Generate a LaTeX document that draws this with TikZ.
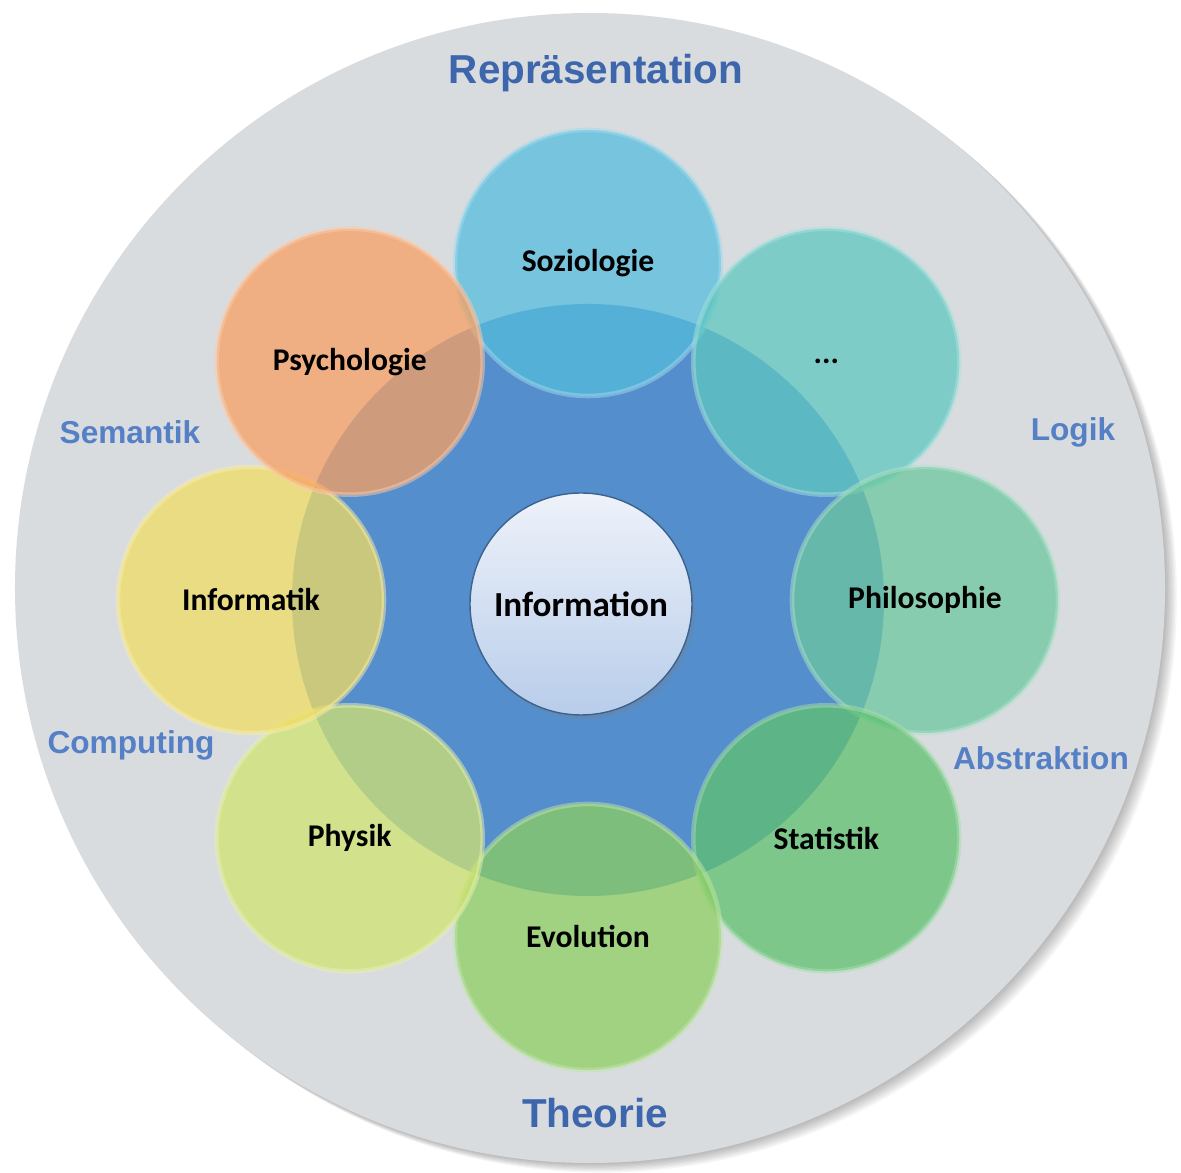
\documentclass[tikz,border=0pt]{standalone}
\usepackage{fontspec}
\setmainfont{Carlito}
\newfontfamily\headfont{Liberation Sans}
\usetikzlibrary{shadows}

\definecolor{discgray}{RGB}{217,220,223}
\definecolor{innerblue}{RGB}{85,142,204}
\definecolor{headblue}{RGB}{62,102,172}
\definecolor{labelblue}{RGB}{86,128,198}
\definecolor{sozcol}{RGB}{85,188,221}
\definecolor{dotscol}{RGB}{95,199,192}
\definecolor{philcol}{RGB}{108,199,159}
\definecolor{statcol}{RGB}{95,193,112}
\definecolor{evolcol}{RGB}{141,207,99}
\definecolor{physcol}{RGB}{208,227,112}
\definecolor{infcol}{RGB}{241,220,99}
\definecolor{psycol}{RGB}{248,160,99}
\definecolor{infotop}{RGB}{238,242,250}
\definecolor{infobot}{RGB}{184,205,234}

\tikzset{
  field/.style={circle,minimum size=2.66cm,inner sep=0pt,
    fill opacity=0.75,draw opacity=0.5,text opacity=1,line width=1.3pt,
    font=\bfseries\fontsize{9}{11}\selectfont},
  topic/.style={text=labelblue,font=\headfont\bfseries\fontsize{9}{11}\selectfont},
  bigtopic/.style={text=headblue,font=\headfont\bfseries\fontsize{11.5}{14}\selectfont}
}

\begin{document}
\begin{tikzpicture}

\fill[white] (-5.88,-5.73) rectangle (5.93,6.00);
\useasboundingbox (-5.88,-5.73) rectangle (5.93,6.00);

% soft shadow under the grey disc
\foreach \s in {1,...,8}
  \fill[black,opacity=0.035] (0.02+0.015*\s,0.12-0.012*\s) circle (5.75);
\fill[discgray] (0.02,0.12) circle (5.75);
\fill[innerblue] (0,0) circle (2.96);

% the eight fields round the centre
\node[field,fill=sozcol,draw=sozcol!55!white] (soz) at (90:3.37) {Soziologie};
\node[field,fill=dotscol,draw=dotscol!55!white] (dots) at (45:3.37) {...};
\node[field,fill=philcol,draw=philcol!55!white] (phil) at (0:3.37) {Philosophie};
\node[field,fill=statcol,draw=statcol!55!white] (stat) at (-45:3.37) {Statistik};
\node[field,fill=evolcol,draw=evolcol!55!white] (evol) at (-90:3.37) {Evolution};
\node[field,fill=physcol,draw=physcol!55!white] (phys) at (-135:3.37) {Physik};
\node[field,fill=infcol,draw=infcol!55!white] (inf) at (180:3.37) {Informatik};
\node[field,fill=psycol,draw=psycol!55!white] (psy) at (135:3.37) {Psychologie};

\node[circle,minimum size=2.22cm,inner sep=0pt,top color=infotop,bottom color=infobot,
  draw=innerblue!70!black,line width=0.4pt,
  drop shadow={shadow xshift=0.03cm,shadow yshift=-0.04cm,opacity=0.3},
  font=\bfseries\fontsize{10}{12}\selectfont] (info) at (-0.07,-0.04) {Information};

% labels on the grey ring
\node[bigtopic] (rep) at (0.08,5.27) {Repräsentation};
\node[bigtopic] (theo) at (0.07,-5.13) {Theorie};
\node[topic] (sem) at (-4.58,1.68) {Semantik};
\node[topic] (log) at (4.85,1.68) {Logik};
\node[topic] (comp) at (-4.57,-1.45) {Computing};
\node[topic] (abs) at (4.53,-1.58) {Abstraktion};
\end{tikzpicture}
\end{document}
